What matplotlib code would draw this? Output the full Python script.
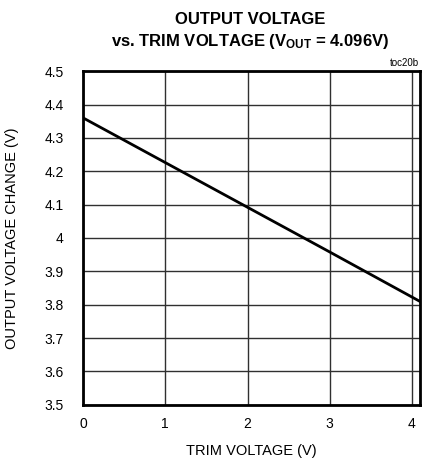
import numpy as np
import matplotlib.pyplot as plt

# 読み取った値
trim_v = [0.0, 1.0, 2.0, 3.0, 4.096]
out_v = [4.36, 4.226, 4.092, 3.958, 3.81]
xticks = [0, 1, 2, 3, 4]
yticks = [3.5, 3.6, 3.7, 3.8, 3.9, 4.0, 4.1, 4.2, 4.3, 4.4, 4.5]
ylabels = ['3.5', '3.6', '3.7', '3.8', '3.9', '4', '4.1', '4.2', '4.3', '4.4', '4.5']

plt.rcParams['font.family'] = ['Liberation Sans Narrow', 'Liberation Sans', 'DejaVu Sans']
plt.rcParams['mathtext.default'] = 'regular'

fig = plt.figure(figsize=(4.28, 4.68), dpi=100)
ax = fig.add_axes([0.194, 0.135, 0.787, 0.713])

ax.plot(trim_v, out_v, color='black', linewidth=2.0, zorder=3)

ax.set_xlim(0, 4.096)
ax.set_ylim(3.5, 4.5)
ax.set_xticks(xticks)
ax.set_yticks(yticks)
ax.set_yticklabels(ylabels)
ax.tick_params(length=0, labelsize=10)
ax.tick_params(axis='x', pad=9)
ax.tick_params(axis='y', pad=14)
ax.grid(True, color='#303030', linewidth=1.0)
for s in ax.spines.values():
    s.set_linewidth(2.0)

ax.set_xlabel('TRIM VOLTAGE (V)', fontsize=10.5, labelpad=9)
ax.set_ylabel('OUTPUT VOLTAGE CHANGE (V)', fontsize=10.5, labelpad=18)

fig.text(0.585, 0.958, 'OUTPUT VOLTAGE', ha='center', va='center',
         fontsize=12, fontweight='bold')
fig.text(0.585, 0.912, r'vs. TRIM VOLTAGE (V$_{OUT}$ = 4.096V)', ha='center',
         va='center', fontsize=12, fontweight='bold')
fig.text(0.978, 0.866, 'toc20b', ha='right', va='center', fontsize=7)

fig.savefig('out.png', dpi=100)
